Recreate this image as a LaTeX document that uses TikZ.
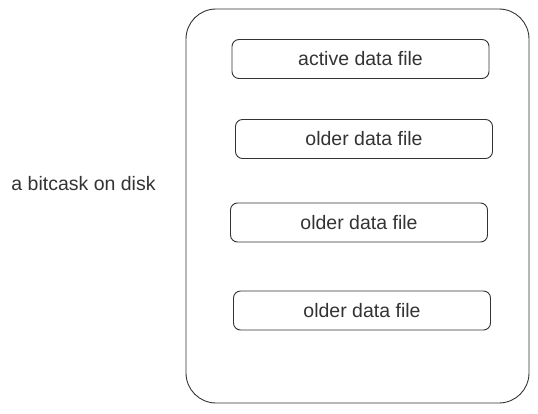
\documentclass[tikz,border=0pt]{standalone}
\usepackage{fontspec}
\setmainfont{Liberation Sans}
\definecolor{inkgrey}{HTML}{333333}
\tikzset{
    datafile/.style={draw=inkgrey, rounded corners=7pt, line width=0.9pt,
        minimum width=257pt, minimum height=39pt, text=inkgrey},
    diskbox/.style={draw=inkgrey, rounded corners=30pt, line width=0.9pt,
        minimum width=343pt, minimum height=394pt},
}
\begin{document}
\begin{tikzpicture}[x=1pt, y=-1pt, font=\fontsize{19.5pt}{23pt}\selectfont]
    \useasboundingbox (0,0) rectangle (538,413);
    % the disk and the files on it
    \node[diskbox] (disk) at (357.5,206) {};
    \node[datafile] (active) at (360.5,59) {active data file};
    \node[datafile] (olderA) at (364,139) {older data file};
    \node[datafile] (olderB) at (359,222.5) {older data file};
    \node[datafile] (olderC) at (362,310.5) {older data file};
    \node[text=inkgrey] (label) at (83.5,184) {a bitcask on disk};
\end{tikzpicture}
\end{document}
